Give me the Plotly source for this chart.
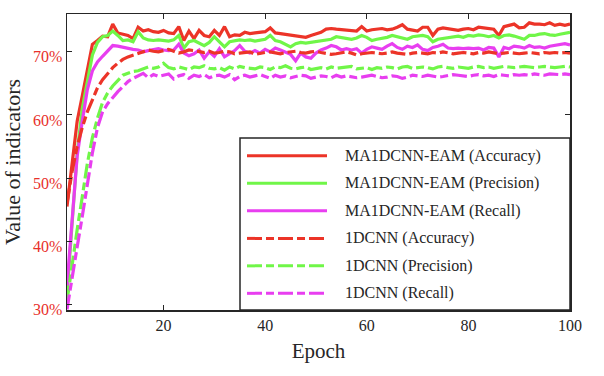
import plotly.graph_objects as go

epochs = list(range(1, 101))

acc_ma = [45.5, 52.0, 59.0, 63.0, 67.0, 71.2, 71.8, 72.5, 72.4, 74.4,
          73.0, 72.8, 72.6, 72.1, 73.9, 73.3, 73.5, 73.2, 73.1, 73.4,
          73.0, 72.9, 74.0, 71.8, 73.3, 72.1, 73.4, 72.6, 72.4, 73.4,
          72.6, 74.0, 72.4, 72.7, 72.6, 73.1, 72.9, 73.0, 73.1, 73.2,
          73.8, 73.0, 72.9, 72.8, 72.6, 72.5, 72.4, 72.3, 72.6, 72.9,
          73.1, 73.6, 73.7, 73.6, 73.5, 73.5, 73.4, 73.3, 74.0, 73.3,
          73.5, 73.6, 73.7, 73.5, 73.6, 73.9, 74.3, 73.6, 73.4, 73.3,
          73.9, 73.9, 72.6, 73.6, 73.8, 73.7, 73.6, 73.4, 73.6, 73.7,
          73.5, 73.9, 73.8, 73.7, 73.6, 72.6, 74.0, 74.2, 74.4, 73.8,
          73.9, 74.6, 74.4, 74.4, 74.3, 74.6, 74.2, 74.4, 74.2, 74.4]

prec_ma = [31.5, 43.0, 54.0, 61.0, 65.5, 69.5, 71.5, 72.4, 72.6, 73.3,
           72.6, 71.8, 71.9, 71.6, 73.2, 72.2, 71.9, 71.8, 71.9, 71.8,
           71.7, 71.9, 72.6, 70.6, 71.6, 71.8, 71.4, 71.0, 71.5, 72.4,
           71.6, 70.8, 71.6, 71.8, 71.9, 71.8, 71.9, 71.7, 71.8, 72.0,
           72.6, 71.8, 71.6, 71.2, 70.8, 71.3, 71.5, 71.4, 71.5, 71.6,
           71.7, 71.8, 72.0, 72.4, 72.3, 72.1, 72.0, 72.2, 72.6, 72.3,
           71.8, 72.0, 72.1, 72.3, 72.6, 72.4, 72.2, 72.0, 72.4, 72.5,
           72.6, 72.4, 71.6, 72.0, 72.1, 72.3, 72.4, 72.5, 72.3, 72.6,
           72.5, 72.7, 72.6, 72.4, 72.6, 72.2, 72.6, 72.7, 72.5, 72.3,
           72.0, 72.6, 72.6, 72.8, 72.9, 72.7, 72.6, 72.8, 73.0, 73.1]

rec_ma = [33.0, 44.0, 53.5, 59.0, 64.0, 67.0, 68.4, 69.3, 70.2, 71.0,
          70.9, 70.7, 70.5, 70.4, 70.3, 70.0, 70.2, 70.3, 70.5, 70.3,
          70.2, 70.3, 71.2, 69.8, 69.4, 69.7, 70.3, 69.0, 70.0, 69.3,
          70.5, 69.2, 69.7, 70.2, 71.0, 70.1, 69.8, 70.2, 69.8, 70.4,
          70.0, 70.6, 70.3, 69.9, 69.6, 68.6, 69.8, 69.2, 69.0, 69.8,
          70.3, 70.6, 71.0, 70.8, 70.3, 70.5, 70.3, 70.5, 69.8, 70.4,
          70.8, 70.6, 70.4, 70.9, 71.3, 70.7, 70.4, 70.9, 70.7, 71.1,
          70.4, 70.2, 70.7, 70.9, 71.2, 70.6, 70.5, 70.6, 70.5, 70.6,
          70.5, 70.6, 70.3, 70.7, 70.6, 69.2, 70.7, 70.5, 70.9, 70.8,
          70.6, 71.0, 70.7, 70.8, 70.6, 70.9, 71.0, 71.1, 71.3, 71.1]

acc_1d = [46.0, 51.0, 55.0, 58.0, 60.5, 62.4, 64.3, 65.6, 66.6, 67.5,
          68.2, 68.8, 69.2, 69.5, 69.8, 70.0, 70.3, 70.1, 70.0, 70.2,
          70.4, 70.1, 69.8, 70.0, 70.3, 70.2, 70.0, 69.9, 70.1, 69.8,
          69.9, 70.1, 70.0, 69.7, 69.8, 69.9, 70.0, 69.6, 69.8, 69.9,
          70.0, 69.8, 69.7, 69.9, 70.0, 70.1, 69.9, 69.8, 70.0, 70.1,
          69.9, 69.8, 69.6, 69.7, 69.9, 70.0, 69.8, 69.5, 69.7, 69.8,
          69.9, 69.8, 69.7, 69.8, 70.0, 69.8, 69.7, 69.6, 69.8, 69.9,
          69.8, 69.7, 69.9, 69.8, 70.0, 69.9, 69.7, 69.8, 69.9, 69.8,
          69.7, 69.9, 69.8, 70.0, 69.9, 69.7, 69.8, 69.9, 69.8, 69.7,
          69.8, 69.9, 69.8, 69.7, 69.9, 69.8, 69.9, 69.8, 69.9, 69.8]

prec_1d = [30.5, 36.5, 41.8, 47.0, 52.3, 56.4, 59.5, 62.0, 63.5, 64.6,
           65.5, 66.3, 66.6, 66.9, 67.0, 67.3, 67.6, 67.4, 67.6, 68.2,
           67.5, 67.3, 67.6, 67.4, 67.2, 67.6, 67.5, 67.8, 67.4, 67.3,
           67.5, 67.1, 67.6, 67.3, 67.7, 67.5, 67.4, 67.3, 67.6, 67.5,
           67.2, 67.6, 67.5, 67.8, 67.4, 67.3, 67.5, 67.6, 67.2, 67.4,
           67.5, 67.3, 67.6, 67.4, 67.5, 67.6, 67.7, 67.3, 67.4, 67.5,
           67.2, 67.5, 67.4, 67.6, 67.5, 67.3, 67.6, 67.7, 67.4, 67.5,
           67.6, 67.5, 67.3, 67.6, 67.7, 67.5, 67.4, 67.6, 67.5, 67.4,
           67.6, 67.7, 67.5, 67.6, 67.4, 67.5, 67.7, 67.6, 67.5, 67.6,
           67.7, 67.6, 67.5, 67.6, 67.7, 67.6, 67.5, 67.6, 67.7, 67.6]

rec_1d = [29.2, 34.4, 39.1, 43.9, 49.0, 54.0, 58.0, 60.5, 61.8, 62.8,
          63.7, 64.5, 65.3, 65.8, 66.2, 66.6, 65.9, 66.4, 66.1, 66.3,
          66.5, 65.7, 66.2, 66.4, 65.8, 66.3, 66.1, 66.4, 65.9, 66.2,
          66.3, 66.0, 66.4, 65.6, 66.1, 66.3, 66.0, 66.2, 66.4, 66.1,
          65.8, 66.3, 66.0, 66.2, 65.9, 66.1, 66.3, 66.2, 65.8, 66.0,
          66.2, 66.1, 65.9, 66.3, 66.0, 66.2, 66.1, 65.9, 66.0, 66.2,
          66.3, 66.1, 65.9, 66.0, 66.2, 66.1, 65.8, 66.0, 66.3, 66.2,
          66.1, 66.3, 66.2, 66.0, 66.1, 66.2, 66.4, 66.3, 66.2, 66.1,
          66.3, 66.4, 66.2, 66.3, 66.1, 66.4, 66.3, 66.2, 66.4, 66.3,
          66.4, 66.3, 66.5, 66.4, 66.3, 66.5, 66.4, 66.4, 66.5, 66.4]

series_names = ["MA1DCNN-EAM (Accuracy)", "MA1DCNN-EAM (Precision)", "MA1DCNN-EAM (Recall)",
                "1DCNN (Accuracy)", "1DCNN (Precision)", "1DCNN (Recall)"]
series_values = [acc_ma, prec_ma, rec_ma, acc_1d, prec_1d, rec_1d]

x_ticks = [20, 40, 60, 80, 100]
y_ticks = [30, 40, 50, 60, 70]
y_tick_labels = ["30%", "40%", "50%", "60%", "70%"]

RED = "rgb(236,52,40)"
GREEN = "rgb(112,246,72)"
MAGENTA = "rgb(232,62,240)"
AXIS = "#262626"
DASH = "15px,4px,8px,4px"
colors = [RED, GREEN, MAGENTA, RED, GREEN, MAGENTA]
dashes = ["solid", "solid", "solid", DASH, DASH, DASH]
FONT = "Liberation Serif, Times New Roman, serif"

fig = go.Figure()
for name, vals, c, d in zip(series_names, series_values, colors, dashes):
    fig.add_trace(go.Scatter(x=epochs, y=vals, mode="lines", name=name,
                             line=dict(color=c, width=3.2, dash=d), showlegend=False,
                             hoverinfo="skip"))

# plot area in pixels
L, R, T, B = 67, 570, 12, 310.5
W, H = R - L, B - T
def px(x):
    return (x - L) / W
def py(y):
    return (B - y) / H

shapes = [dict(type="rect", xref="paper", yref="paper", x0=px(240), x1=1.0, y0=0.0, y1=py(137),
               fillcolor="white", line=dict(color=AXIS, width=1.5), layer="above")]
annotations = []
rows = [155, 182.7, 210.3, 238.3, 266, 293.7]
for name, c, d, ry in zip(series_names, colors, dashes, rows):
    shapes.append(dict(type="line", xref="paper", yref="paper", x0=px(247), x1=px(327),
                       y0=py(ry), y1=py(ry), line=dict(color=c, width=3, dash=d), layer="above"))
    annotations.append(dict(xref="paper", yref="paper", x=px(343), y=py(ry), text=name,
                            showarrow=False, xanchor="left", yanchor="middle",
                            font=dict(family=FONT, size=16, color=AXIS)))

fig.update_layout(
    width=604, height=376,
    margin=dict(l=L, r=604 - R, t=T, b=376 - B),
    paper_bgcolor="white", plot_bgcolor="white",
    font=dict(family=FONT, size=16, color=AXIS),
    shapes=shapes, annotations=annotations,
    showlegend=False,
)
fig.update_xaxes(range=[1, 100], tickvals=x_ticks, ticks="inside", ticklen=5,
                 tickcolor=AXIS, showline=True, linecolor=AXIS, linewidth=1.5,
                 mirror="ticks", showgrid=False, zeroline=False,
                 tickfont=dict(family=FONT, size=16, color=AXIS),
                 title=dict(text="Epoch", font=dict(family=FONT, size=21, color=AXIS), standoff=10))
fig.update_yaxes(range=[29.1, 76], tickvals=y_ticks, ticktext=y_tick_labels, ticks="inside", ticklen=5,
                 tickcolor=AXIS, showline=True, linecolor=AXIS, linewidth=1.5,
                 mirror="ticks", showgrid=False, zeroline=False, ticklabelshift=5,
                 tickfont=dict(family=FONT, size=16, color="rgb(232,48,42)"),
                 title=dict(text="Value of indicators", font=dict(family=FONT, size=22, color=AXIS), standoff=6))

fig.write_html("out.html", post_script="document.body.style.margin='0px';",
               config={"displayModeBar": False, "staticPlot": True})
